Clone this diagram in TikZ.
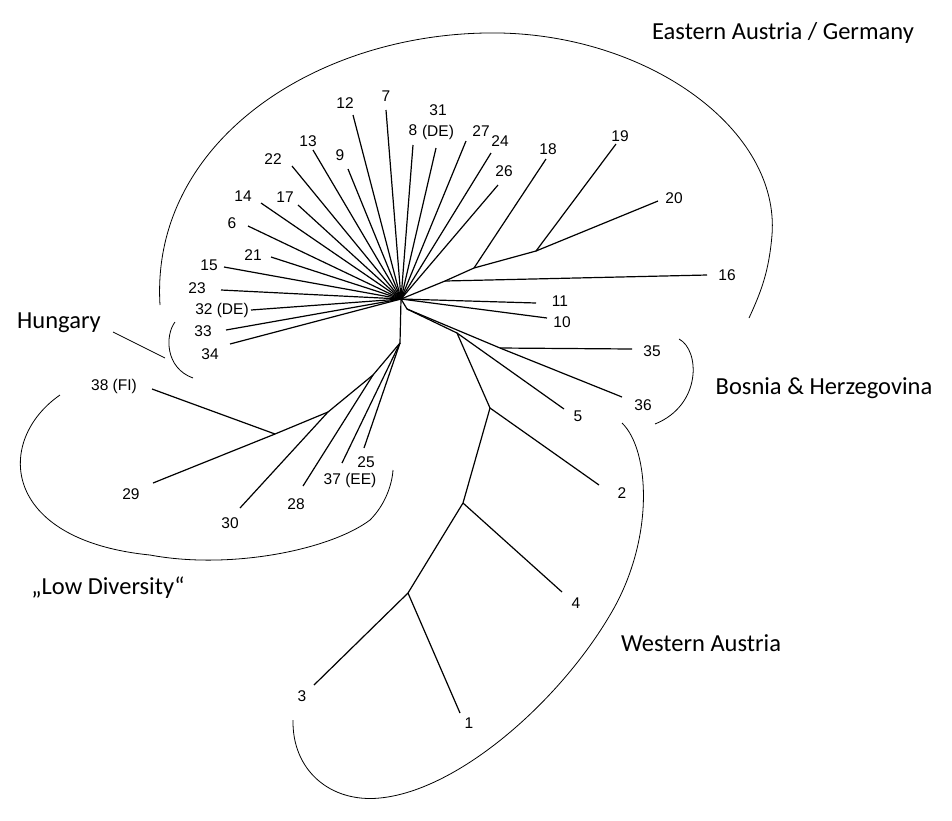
\documentclass[tikz,border=0pt]{standalone}
\usepackage{fontspec}
\setmainfont{Liberation Sans}
\newfontfamily\regfont{Carlito}
\begin{document}
\begin{tikzpicture}[x=1pt,y=-1pt,
  br/.style={line width=1.2pt},
  arc/.style={line width=0.8pt},
  lab/.style={font=\fontsize{15.5}{17}\selectfont,inner sep=0pt},
  reg/.style={font=\regfont\fontsize{24.5}{26}\selectfont,inner sep=0pt}]
\useasboundingbox (0,0) rectangle (952,820);
% internal nodes
\coordinate (C) at (401,299);
\coordinate (n16) at (445,281);
\coordinate (n18) at (474,268);
\coordinate (n19) at (536,251);
\coordinate (L1) at (400,343);
\coordinate (L2) at (373,375);
\coordinate (L3) at (328,412);
\coordinate (L4) at (275,434);
\coordinate (R1) at (407,309);
\coordinate (R2) at (457,333);
\coordinate (B) at (500,348);
\coordinate (W1) at (490,408);
\coordinate (W2) at (463,503);
\coordinate (W3) at (408,593);
% leaf ends
\foreach \n/\x/\y in {12/353/115, 7/386/110, 8/413/145, 31/436/148, 27/466/141, 24/491/153, 26/498/185,
  13/313/150, 9/348/169, 22/292/166, 14/261/203, 17/298/205, 6/248/226, 21/271/257, 15/224/267,
  23/221/290, 32/251/310, 33/226/330, 34/230/344, 18/546/159, 19/616/144, 20/658/201, 16/707/275,
  11/536/303, 10/547/318, 35/632/349, 36/622/397, 5/564/409, 2/599/485, 4/562/592, 3/314/685, 1/460/713,
  25/364/448, 37/342/463, 28/303/486, 30/240/508, 29/153/483, 38/152/389}
  \coordinate (e\n) at (\x,\y);
% branches
\foreach \n in {12,7,8,31,27,24,26,13,9,22,14,17,6,21,15,23,32,33,34,11,10}
  \draw[br] (C) -- (e\n);
\draw[br] (C) -- (n16) -- (n18) -- (n19);
\draw[br] (n16) -- (e16);
\draw[br] (n18) -- (e18);
\draw[br] (n19) -- (e19);
\draw[br] (n19) -- (e20);
\draw[br] (C) -- (L1) -- (L2) -- (L3) -- (L4);
\draw[br] (L1) -- (e25);
\draw[br] (L1) -- (e37);
\draw[br] (L2) -- (e28);
\draw[br] (L3) -- (e30);
\draw[br] (L4) -- (e29);
\draw[br] (L4) -- (e38);
\draw[br] (C) -- (R1) -- (R2) -- (W1) -- (W2) -- (W3);
\draw[br] (R2) -- (e5);
\draw[br] (R1) -- (B) -- (e36);
\draw[br] (B) -- (e35);
\draw[br] (W1) -- (e2);
\draw[br] (W2) -- (e4);
\draw[br] (W3) -- (e3);
\draw[br] (W3) -- (e1);
% labels
\foreach \t/\x/\y in {12/345/103, 7/386/96, 8/413/130, 31/438/110, (DE)/438/132, 27/481/131, 24/500/141, 26/504/171,
  13/308/141, 9/340/155, 22/273/159, 14/243/196, 17/285/197, 6/232/223, 21/253/255, 15/209/265,
  23/197/288, 32 (DE)/222/310, 33/203/331, 34/210/354, 18/548/149, 19/620/136, 20/674/198, 16/727/275,
  11/560/301, 10/562/322, 35/652/351, 36/643/405, 5/578/416, 2/622/493, 4/576/603, 3/302/696, 1/469/723,
  25/366/462, 37 (EE)/350/480, 28/296/504, 30/230/523, 29/131/494, 38 (FI)/114/386}
  \node[lab] (l\x) at (\x,\y) {\t};
% region labels
\node[reg] (rEA) at (783,33) {Eastern Austria / Germany};
\node[reg] (rH) at (59,323) {Hungary};
\node[reg] (rB) at (824,388) {Bosnia \& Herzegovina};
\node[reg] (rL) at (108,588) {„Low Diversity“};
\node[reg] (rW) at (701,643) {Western Austria};
% group outlines
\coordinate (h1) at (113,332); \coordinate (h2) at (165,358);
\draw[arc] (h1) -- (h2);
\draw[arc] (175,322) .. controls (165,335) and (165,368) .. (193,378);
\draw[arc] (160,305) .. controls (150,140) and (320,30) .. (500,33)
  .. controls (650,36) and (780,130) .. (772,235)
  .. controls (769,270) and (762,290) .. (749,318);
\draw[arc] (679,339) .. controls (700,350) and (702,405) .. (655,424);
\draw[arc] (60,395) .. controls (-5,440) and (0,540) .. (150,555)
  .. controls (230,570) and (330,550) .. (370,520)
  .. controls (385,505) and (392,485) .. (393,470);
\draw[arc] (622,423) .. controls (650,450) and (655,540) .. (610,615)
  .. controls (560,700) and (460,790) .. (380,798)
  .. controls (330,803) and (292,770) .. (293,720);
\end{tikzpicture}
\end{document}
